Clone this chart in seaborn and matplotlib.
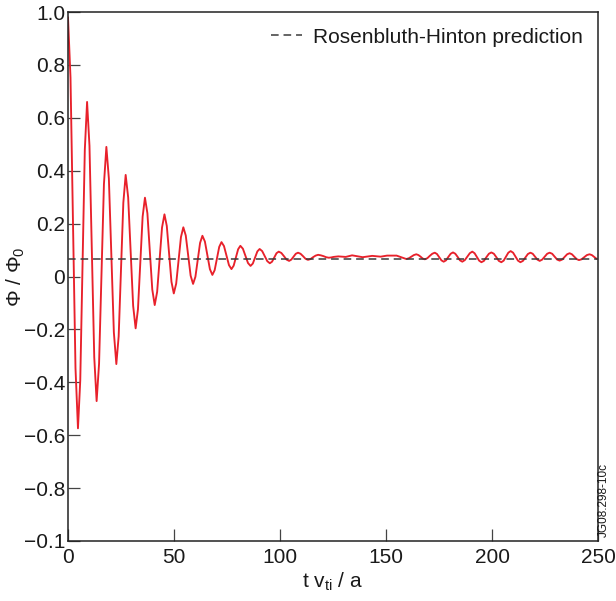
import matplotlib
matplotlib.use("Agg")
import matplotlib.pyplot as plt
import seaborn as sns
import pandas as pd

# --- curve points ---
t_values = [
    0.0, 1.18, 2.35, 3.53, 4.7, 5.78, 6.85, 7.93, 9.0, 10.13,
    11.25, 12.38, 13.5, 14.65, 15.8, 16.95, 18.1, 19.28, 20.45, 21.63,
    22.8, 23.9, 25.0, 26.1, 27.2, 28.38, 29.55, 30.73, 31.9, 33.0,
    34.1, 35.2, 36.3, 37.45, 38.6, 39.75, 40.9, 42.05, 43.2, 44.35,
    45.5, 46.6, 47.7, 48.8, 49.9, 51.03, 52.15, 53.28, 54.4, 55.55,
    56.7, 57.85, 59.0, 60.1, 61.2, 62.3, 63.4, 64.58, 65.75, 66.93,
    68.1, 69.18, 70.25, 71.33, 72.4, 73.58, 74.75, 75.93, 77.1, 78.15,
    79.2, 80.25, 81.3, 82.5, 83.7, 84.9, 86.1, 87.18, 88.25, 89.33,
    90.4, 91.6, 92.8, 94.0, 95.2, 96.25, 97.3, 98.35, 99.4, 100.63,
    101.85, 103.08, 104.3, 105.35, 106.4, 107.45, 108.5, 109.68, 110.85, 112.03,
    113.2, 114.4, 115.6, 116.8, 118.0, 119.25, 120.5, 121.75, 123.0, 124.13,
    125.25, 126.38, 127.5, 131.0, 134.0, 139.0, 143.5, 147.5, 150.5, 155.0,
    159.6, 160.78, 161.95, 163.13, 164.3, 165.3, 166.3, 167.3, 168.3, 169.48,
    170.65, 171.83, 173.0, 174.05, 175.1, 176.15, 177.2, 178.3, 179.4, 180.5,
    181.6, 182.7, 183.8, 184.9, 186.0, 187.18, 188.35, 189.53, 190.7, 191.78,
    192.85, 193.93, 195.0, 196.18, 197.35, 198.53, 199.7, 200.88, 202.05, 203.23,
    204.4, 205.5, 206.6, 207.7, 208.8, 209.95, 211.1, 212.25, 213.4, 214.58,
    215.75, 216.93, 218.1, 219.2, 220.3, 221.4, 222.5, 223.68, 224.85, 226.03,
    227.2, 228.38, 229.55, 230.73, 231.9, 233.08, 234.25, 235.43, 236.6, 237.7,
    238.8, 239.9, 241.0, 242.25, 243.5, 244.75, 246.0, 247.1, 248.2, 249.3,
    250.0,
]
phi_values = [
    0.98, 0.752, 0.203, -0.346, -0.574, -0.393, 0.043, 0.479, 0.66, 0.494,
    0.094, -0.305, -0.471, -0.330, 0.010, 0.349, 0.49, 0.370, 0.080, -0.211,
    -0.331, -0.226, 0.027, 0.279, 0.384, 0.299, 0.094, -0.111, -0.196, -0.124,
    0.051, 0.226, 0.298, 0.239, 0.095, -0.049, -0.108, -0.058, 0.064, 0.185,
    0.235, 0.191, 0.086, -0.020, -0.064, -0.027, 0.061, 0.149, 0.186, 0.155,
    0.079, 0.003, -0.028, -0.001, 0.063, 0.127, 0.154, 0.132, 0.080, 0.028,
    0.006, 0.024, 0.068, 0.112, 0.130, 0.115, 0.079, 0.043, 0.028, 0.041,
    0.072, 0.103, 0.116, 0.105, 0.078, 0.051, 0.040, 0.049, 0.072, 0.095,
    0.104, 0.096, 0.077, 0.058, 0.050, 0.056, 0.072, 0.088, 0.094, 0.089,
    0.077, 0.064, 0.059, 0.064, 0.075, 0.086, 0.090, 0.086, 0.077, 0.067,
    0.063, 0.066, 0.073, 0.079, 0.082, 0.080, 0.077, 0.073, 0.071, 0.072,
    0.074, 0.075, 0.076, 0.074, 0.080, 0.073, 0.078, 0.075, 0.079, 0.079,
    0.066, 0.069, 0.075, 0.081, 0.084, 0.081, 0.075, 0.068, 0.065, 0.069,
    0.078, 0.086, 0.090, 0.085, 0.073, 0.061, 0.056, 0.061, 0.074, 0.086,
    0.091, 0.086, 0.074, 0.061, 0.056, 0.062, 0.075, 0.088, 0.094, 0.088,
    0.074, 0.060, 0.054, 0.059, 0.073, 0.086, 0.091, 0.086, 0.073, 0.059,
    0.054, 0.060, 0.075, 0.090, 0.096, 0.090, 0.075, 0.060, 0.054, 0.059,
    0.072, 0.085, 0.090, 0.086, 0.075, 0.064, 0.059, 0.064, 0.075, 0.086,
    0.090, 0.086, 0.075, 0.064, 0.060, 0.064, 0.074, 0.084, 0.088, 0.084,
    0.075, 0.066, 0.062, 0.065, 0.073, 0.081, 0.084, 0.081, 0.074, 0.067,
    0.066,
]
rh_value = 0.067
legend_label = "Rosenbluth-Hinton prediction"
x_ticks = [0, 50, 100, 150, 200, 250]
x_tick_labels = ["0", "50", "100", "150", "200", "250"]
y_ticks = [1.0, 0.8, 0.6, 0.4, 0.2, 0.0, -0.2, -0.4, -0.6, -0.8, -1.0]
y_tick_labels = ["1.0", "0.8", "0.6", "0.4", "0.2", "0", "\u22120.2", "\u22120.4",
                 "\u22120.6", "\u22120.8", "\u22120.1"]
code_label = "JG08.298-10c"

sns.set_theme(style="white")
plt.rcParams["font.family"] = ["Liberation Sans", "DejaVu Sans"]
plt.rcParams["mathtext.fontset"] = "custom"
plt.rcParams["mathtext.rm"] = "Liberation Sans"
plt.rcParams["mathtext.it"] = "Liberation Sans:italic"
plt.rcParams["axes.unicode_minus"] = True

df = pd.DataFrame({"t": t_values, "phi": phi_values})

fig = plt.figure(figsize=(6.16, 6.01), dpi=100)
ax = fig.add_axes([68 / 616, 60 / 601, 530 / 616, 529 / 601])

sns.lineplot(data=df, x="t", y="phi", ax=ax, color="#e8212b", linewidth=1.35,
             estimator=None, sort=False, zorder=2)
ax.axhline(rh_value, color="#3a3a3a", linewidth=1.1, dashes=(5, 3.2),
           label=legend_label, zorder=3)

ax.set_xlim(0, 250)
ax.set_ylim(-1.0, 1.0)
ax.set_xticks(x_ticks)
ax.set_xticklabels(x_tick_labels)
ax.set_yticks(y_ticks)
ax.set_yticklabels(y_tick_labels)
ax.tick_params(axis="both", which="both", direction="in", length=8.6, width=0.9,
               color="#444444", labelsize=15, labelcolor="#1a1a1a",
               left=True, bottom=True, top=False, right=False)
ax.tick_params(axis="x", pad=5)
ax.tick_params(axis="y", pad=2)

for side in ["left", "right", "top", "bottom"]:
    ax.spines[side].set_visible(True)
    ax.spines[side].set_color("#222222")
    ax.spines[side].set_linewidth(1.1)

ax.set_xlabel(r"t v$_{\mathrm{ti}}$ / a", fontsize=15, color="#1a1a1a", labelpad=3)
ax.set_ylabel("\u03a6 / \u03a6$_{0}$", fontsize=15, color="#1a1a1a")
ax.yaxis.set_label_coords(-0.078, 0.5)

leg = ax.legend(loc="upper right", frameon=False, fontsize=15, handlelength=1.5,
                handletextpad=0.5, borderaxespad=0.35)
for txt in leg.get_texts():
    txt.set_color("#1a1a1a")

fig.text(604 / 616, 64 / 601, code_label, rotation=90, fontsize=8.5,
         ha="center", va="bottom", color="#1a1a1a")

fig.savefig("out.png", dpi=100)
